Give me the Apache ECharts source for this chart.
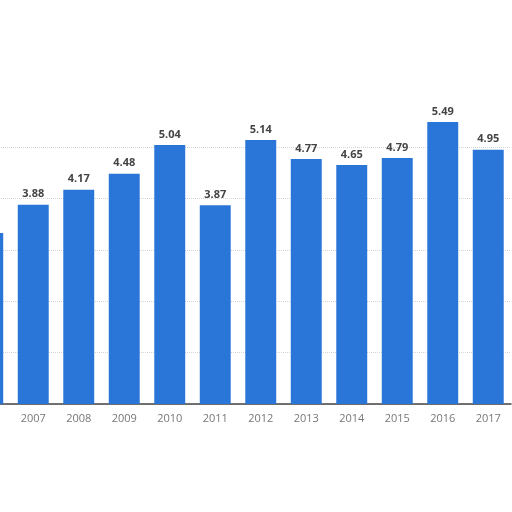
<!DOCTYPE html>
<html>
<head>
<meta charset="utf-8">
<script src="https://cdn.jsdelivr.net/npm/echarts@6/dist/echarts.min.js"></script>
<style>
  html, body { margin: 0; padding: 0; background: #fff; }
  #chart { width: 512px; height: 512px; }
</style>
</head>
<body>
<div id="chart"></div>
<script>
var years = ['2006', '2007', '2008', '2009', '2010', '2011', '2012', '2013', '2014', '2015', '2016', '2017'];
var values = [3.33, 3.88, 4.17, 4.48, 5.04, 3.87, 5.14, 4.77, 4.65, 4.79, 5.49, 4.95];

var chart = echarts.init(document.getElementById('chart'));

var option = {
    animation: false,
    grid: {
        left: -35,
        right: 1,
        top: 106,
        bottom: 108,
        outerBoundsMode: 'none'
    },
    xAxis: {
        type: 'category',
        data: years,
        axisLine: {
            lineStyle: { color: '#444', width: 1.5 }
        },
        axisTick: { show: false },
        axisLabel: {
            color: '#777',
            fontSize: 11,
            fontFamily: 'Open Sans',
            margin: 9
        }
    },
    yAxis: {
        type: 'value',
        min: 0,
        max: 5.8,
        interval: 1,
        axisLine: { show: false },
        axisTick: { show: false },
        axisLabel: { show: false },
        splitLine: {
            showMaxLine: false,
            lineStyle: { color: '#d5d5d5', type: 'dotted' }
        }
    },
    series: [{
        type: 'bar',
        data: values,
        barCategoryGap: '32%',
        itemStyle: { color: '#2a75d8' },
        label: {
            show: true,
            position: 'top',
            distance: 5,
            color: '#444',
            fontWeight: 'bold',
            fontSize: 11,
            fontFamily: 'Open Sans',
            formatter: function (p) {
                return p.value.toFixed(2);
            }
        }
    }]
};

chart.setOption(option);
</script>
</body>
</html>
